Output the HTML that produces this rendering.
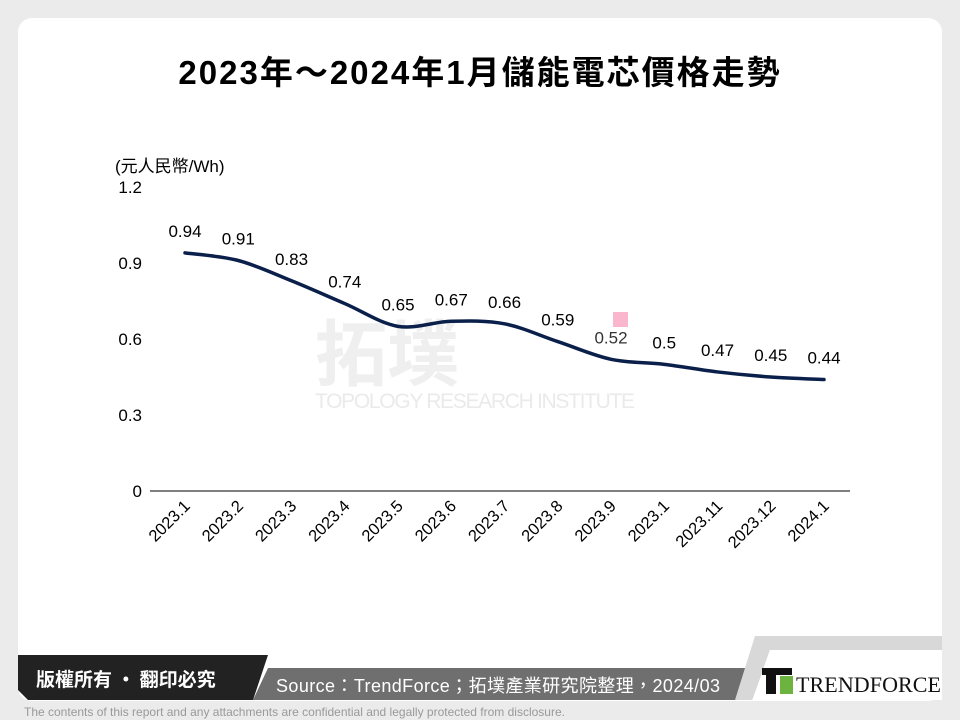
<!DOCTYPE html>
<html><head><meta charset="utf-8"><style>
body{margin:0;width:960px;height:720px;background:#ebebeb;overflow:hidden;font-family:"Liberation Sans","Noto Sans CJK TC",sans-serif;}
</style></head><body>
<svg width="960" height="720" xmlns="http://www.w3.org/2000/svg" style="position:absolute;left:0;top:0">
<rect x="18" y="18" width="924" height="683" rx="14" fill="#fff"/>
<text x="480" y="84" text-anchor="middle" font-size="33" font-weight="bold" fill="#000" letter-spacing="2" font-family="Liberation Sans,Noto Sans CJK TC,sans-serif">2023年～2024年1月儲能電芯價格走勢</text>
<text x="315" y="380" font-size="72" font-weight="bold" fill="#efefef" font-family="Noto Sans CJK TC,sans-serif">拓墣</text>
<text x="315" y="408" font-size="21" fill="#eaeaea" textLength="320">TOPOLOGY RESEARCH INSTITUTE</text>
<text x="115" y="172" font-size="17" fill="#000">(元人民幣/Wh)</text>
<g font-size="17" fill="#000" text-anchor="end">
<text x="142" y="193">1.2</text><text x="142" y="269">0.9</text><text x="142" y="345">0.6</text><text x="142" y="421">0.3</text><text x="142" y="497">0</text>
</g>
<line x1="150" y1="491" x2="850" y2="491" stroke="#000" stroke-width="1"/>
<path id="curve" fill="none" stroke="#0a1f4a" stroke-width="3.5" stroke-linecap="round"/>
<g id="labels" font-size="17" fill="#000" text-anchor="middle"></g>
<g id="xl" font-size="16.5" fill="#000" text-anchor="end"></g>
<rect x="613" y="312" width="15" height="15" fill="#f9b6cc"/>
<polygon points="268,668 942,668 942,700 253,700" fill="#6f6f6f"/>
<polygon points="18,655 268,655 253,700 28,700 18,690" fill="#222"/>
<polygon points="755,636 942,636 942,650 770,650 752,700 735,700" fill="#d8d8d8"/>
<polygon points="770,650 942,650 942,700 752,700" fill="#fff"/>
<text x="36" y="686" font-size="19" font-weight="bold" fill="#fff" font-family="Noto Sans CJK TC,sans-serif">版權所有 · 翻印必究</text>
<text x="276" y="692" font-size="18" fill="#fff" textLength="444">Source：TrendForce；拓墣產業研究院整理，2024/03</text>
<rect x="766" y="668" width="10" height="26" fill="#111"/>
<rect x="762" y="668" width="30" height="7" fill="#111"/>
<rect x="780" y="676" width="13" height="18" fill="#6db33f"/>
<text x="796" y="692" font-size="22" fill="#111" font-family="Liberation Serif,serif" textLength="145">TRENDFORCE</text>
<text x="24" y="716" font-size="12" fill="#999">The contents of this report and any attachments are confidential and legally protected from disclosure.</text>
</svg>
<script>
var v=[0.94,0.91,0.83,0.74,0.65,0.67,0.66,0.59,0.52,0.5,0.47,0.45,0.44];
var n=["2023.1","2023.2","2023.3","2023.4","2023.5","2023.6","2023.7","2023.8","2023.9","2023.1","2023.11","2023.12","2024.1"];
var P=v.map(function(a,i){return [185+53.25*i,491-a*253.3];});
var d="M"+P[0][0]+","+P[0][1];
for(var i=0;i<P.length-1;i++){var p0=P[Math.max(0,i-1)],p1=P[i],p2=P[i+1],p3=P[Math.min(P.length-1,i+2)];
d+=" C"+(p1[0]+(p2[0]-p0[0])/6)+","+(p1[1]+(p2[1]-p0[1])/6)+" "+(p2[0]-(p3[0]-p1[0])/6)+","+(p2[1]-(p3[1]-p1[1])/6)+" "+p2[0]+","+p2[1];}
document.getElementById("curve").setAttribute("d",d);
var L="",X="";
P.forEach(function(p,i){var c=i==8?"#333":"#000";L+='<text x="'+p[0]+'" y="'+(p[1]-16)+'" fill="'+c+'">'+v[i]+'</text>';
X+='<text transform="translate('+(p[0]+6)+',507) rotate(-45)">'+n[i]+'</text>';});
document.getElementById("labels").innerHTML=L;document.getElementById("xl").innerHTML=X;
</script>
</body></html>
